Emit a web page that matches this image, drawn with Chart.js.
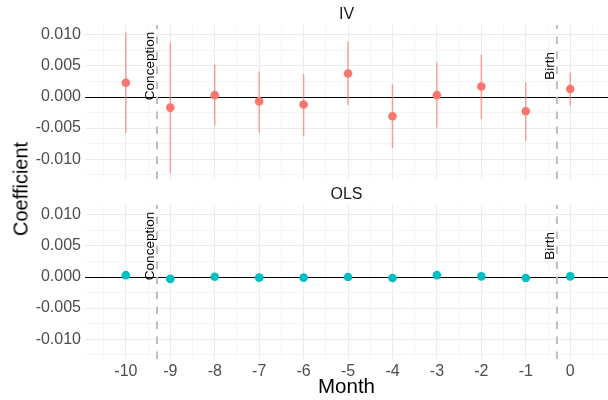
<!DOCTYPE html>
<html>
<head>
<meta charset="utf-8">
<script src="https://cdn.jsdelivr.net/npm/chart.js@4.4.1/dist/chart.umd.min.js"></script>
<style>
  body { margin: 0; background: #fff; }
  #wrap { position: relative; width: 608px; height: 400px; font-family: "Liberation Sans", Arial, sans-serif; }
  #wrap canvas { position: absolute; left: 0; }
  #ylab {
    position: absolute; left: 21px; top: 189px;
    transform: translate(-50%, -50%) rotate(-90deg);
    font-size: 20px; color: #000; white-space: nowrap;
  }
</style>
</head>
<body>
<div id="wrap">
  <canvas id="ivChart" width="608" height="182" style="top:0"></canvas>
  <canvas id="olsChart" width="608" height="218" style="top:182px"></canvas>
  <div id="ylab">Coefficient</div>
</div>
<script>
// months relative to birth
const months = [-10, -9, -8, -7, -6, -5, -4, -3, -2, -1, 0];

// IV estimates with confidence bounds
const ivCoef  = [0.0023, -0.0017, 0.0003, -0.0007, -0.0012, 0.0038, -0.0031, 0.0003, 0.0017, -0.0023, 0.0013];
const ivLower = [-0.0058, -0.0122, -0.0046, -0.0057, -0.0063, -0.0013, -0.0082, -0.0049, -0.0035, -0.0071, -0.0014];
const ivUpper = [0.0104, 0.0088, 0.0052, 0.0041, 0.0037, 0.0089, 0.0020, 0.0056, 0.0068, 0.0024, 0.0039];

// OLS estimates
const olsCoef = [0.0003, -0.0003, 0.00005, -0.0001, -0.0001, 0.0, -0.00016, 0.0003, 0.0001, -0.00016, 0.0001];

// reference events
const eventNames  = ['Conception', 'Birth'];
const eventMonths = [-9.3, -0.3];
const eventLabelY = 0.005;

// axis ticks
const yMajor = [-0.01, -0.005, 0, 0.005, 0.01];
const yMinor = [-0.0125, -0.0075, -0.0025, 0.0025, 0.0075];
const xMinor = [-10.5].concat(months.map(m => m + 0.5));

const IV_COLOR = '#F8766D';
const OLS_COLOR = '#00BFC4';
const FONT = '"Liberation Sans", Arial, sans-serif';

Chart.defaults.font.family = FONT;

const xGrid = months.concat(xMinor).sort((a, b) => a - b);
const yGrid = yMajor.concat(yMinor).sort((a, b) => a - b);
const isMajorY = v => yMajor.some(t => Math.abs(t - v) < 1e-9);

// zero line, dashed event lines, event labels and the facet strip
const facetDecor = {
  id: 'facetDecor',
  beforeDatasetsDraw(chart, args, opts) {
    const { ctx, chartArea: a, scales: { x, y } } = chart;
    ctx.save();
    const y0 = Math.floor(y.getPixelForValue(0)) + 0.5;
    ctx.strokeStyle = '#000';
    ctx.lineWidth = 1.2;
    ctx.beginPath();
    ctx.moveTo(a.left, y0);
    ctx.lineTo(a.right, y0);
    ctx.stroke();

    ctx.strokeStyle = '#BEBEBE';
    ctx.lineWidth = 2;
    ctx.setLineDash([7.5, 7.5]);
    eventMonths.forEach(m => {
      const px = x.getPixelForValue(m);
      ctx.beginPath();
      ctx.moveTo(px, a.bottom);
      ctx.lineTo(px, a.top);
      ctx.stroke();
    });
    ctx.restore();
  },
  afterDatasetsDraw(chart, args, opts) {
    const { ctx, chartArea: a, scales: { x, y } } = chart;
    ctx.save();
    ctx.fillStyle = '#000';
    ctx.font = '13.5px ' + FONT;
    ctx.textAlign = 'center';
    ctx.textBaseline = 'middle';
    eventNames.forEach((name, i) => {
      ctx.save();
      ctx.translate(x.getPixelForValue(eventMonths[i]) - 7, y.getPixelForValue(eventLabelY));
      ctx.rotate(-Math.PI / 2);
      ctx.fillText(name, 0, 0);
      ctx.restore();
    });
    ctx.fillStyle = '#1A1A1A';
    ctx.font = '16px ' + FONT;
    ctx.fillText(opts.strip, (a.left + a.right) / 2, a.top - 10.5);
    ctx.restore();
  }
};

// no extra room for half-height edge labels
function noEdgePadding(s) {
  s.paddingTop = 0;
  s.paddingBottom = 0;
  s.paddingLeft = 0;
  s.paddingRight = 0;
}

function makeScales(showX) {
  return {
    x: {
      type: 'linear',
      min: -10.92,
      max: 0.85,
      afterBuildTicks: s => { s.ticks = xGrid.map(v => ({ value: v })); },
      afterFit: s => { s.height = showX ? 41 : 0; noEdgePadding(s); },
      grid: {
        color: c => Number.isInteger(c.tick.value) ? '#EBEBEB' : '#F5F5F5',
        lineWidth: 1,
        drawTicks: false
      },
      border: { display: false },
      ticks: {
        display: showX,
        autoSkip: false,
        maxRotation: 0,
        padding: 3,
        color: '#4D4D4D',
        font: { size: 16 },
        callback: v => Number.isInteger(v) ? String(v) : ''
      },
      title: {
        display: showX,
        text: 'Month',
        color: '#000',
        font: { size: 20.5 },
        padding: 0
      }
    },
    y: {
      type: 'linear',
      min: -0.0132,
      max: 0.0116,
      afterBuildTicks: s => { s.ticks = yGrid.map(v => ({ value: v })); },
      afterFit: s => { s.width = 85; noEdgePadding(s); },
      grid: {
        color: c => isMajorY(c.tick.value) ? '#EBEBEB' : '#F5F5F5',
        lineWidth: 1,
        drawTicks: false
      },
      border: { display: false },
      ticks: {
        autoSkip: false,
        padding: 4,
        color: '#4D4D4D',
        font: { size: 16 },
        callback: v => isMajorY(v) ? v.toFixed(3) : ''
      }
    }
  };
}

function errorBarData(lower, upper) {
  const pts = [];
  months.forEach((m, i) => {
    pts.push({ x: m, y: lower[i] }, { x: m, y: upper[i] }, { x: m, y: null });
  });
  return pts;
}

function facetChart(id, strip, color, coef, lower, upper, showX, padTop, padBottom) {
  const datasets = [{
    type: 'scatter',
    data: months.map((m, i) => ({ x: m, y: coef[i] })),
    backgroundColor: color,
    borderWidth: 0,
    pointRadius: 4.3,
    order: 0
  }];
  if (lower) {
    datasets.push({
      type: 'line',
      data: errorBarData(lower, upper),
      borderColor: 'rgba(248,118,109,0.65)',
      borderWidth: 1.5,
      pointRadius: 0,
      spanGaps: false,
      order: 1
    });
  }
  return new Chart(document.getElementById(id), {
    type: 'scatter',
    data: { datasets },
    options: {
      responsive: false,
      animation: false,
      devicePixelRatio: 1,
      layout: {
        autoPadding: false,
        padding: { top: padTop, bottom: padBottom, left: 0, right: 0 }
      },
      scales: makeScales(showX),
      plugins: {
        legend: { display: false },
        tooltip: { enabled: false },
        facetDecor: { strip }
      }
    },
    plugins: [facetDecor]
  });
}

facetChart('ivChart', 'IV', IV_COLOR, ivCoef, ivLower, ivUpper, false, 25, 3);
facetChart('olsChart', 'OLS', OLS_COLOR, olsCoef, null, null, true, 23, 0);
</script>
</body>
</html>
